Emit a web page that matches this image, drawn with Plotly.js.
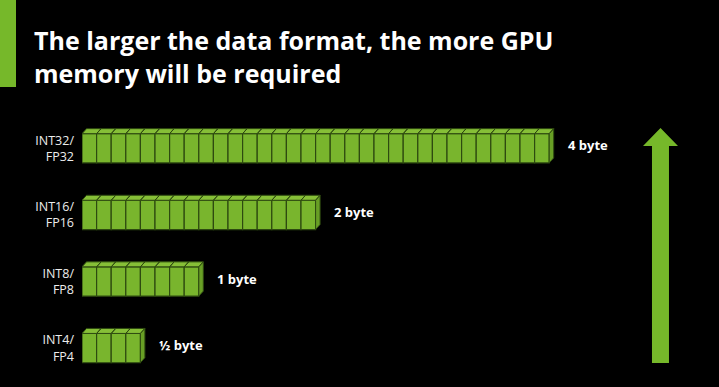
<!DOCTYPE html>
<html><head><meta charset="utf-8">
<script src="https://cdn.plot.ly/plotly-3.0.1.min.js"></script>
<style>html,body{margin:0;padding:0;background:#000;} #chart{width:719px;height:387px;}</style>
</head><body><div id="chart"></div>
<script>
// ---- data ----
const categories = ['INT32/<br>FP32', 'INT16/<br>FP16', 'INT8/<br>FP8', 'INT4/<br>FP4'];
const blockCounts = [32, 16, 8, 4];
const sizeLabels = ['4 byte', '2 byte', '1 byte', '½ byte'];
const titleText = 'The larger the data format, the more GPU<br>memory will be required';

// ---- layout geometry ----
const W = 719, H = 387, mL = 82, mR = 19, mT = 100, mB = 0;
const pw = W - mL - mR, ph = H - mT - mB;
const pitch = 14.6;            // px per block
const xMax = pw / pitch;
const rowGap = 66.6, row0 = 148.3;
const yTop = (mT - row0) / rowGap, yBot = (H - mB - row0) / rowGap;
const barW = 0.44;
const dxD = 4.5 / pitch, dyD = 5 / rowGap;

const GREEN = '#79b52d', TOPC = '#86bf37', SIDE = '#689f25', EDGE = '#2e4a10', ARROW = '#76b82a';

const bx = [], by = [], bb = [];
const tx = [], ty = [], sx = [], sy = [];
blockCounts.forEach((n, i) => {
  const t = i - barW / 2, b = i + barW / 2;
  for (let k = 0; k < n; k++) {
    bx.push(1); by.push(i); bb.push(k);
    tx.push(k, k + 1, k + 1 + dxD, k + dxD, k, null);
    ty.push(t, t, t - dyD, t - dyD, t, null);
  }
  sx.push(n, n + dxD, n + dxD, n, n, null);
  sy.push(b, b - dyD, t - dyD, t, b, null);
});

const traces = [
  {type: 'bar', orientation: 'h', x: bx, y: by, base: bb, width: barW,
   marker: {color: GREEN, line: {color: EDGE, width: 1.2}}, hoverinfo: 'skip'},
  {type: 'scatter', mode: 'lines', x: tx, y: ty, fill: 'toself', fillcolor: TOPC,
   line: {color: EDGE, width: 1}, hoverinfo: 'skip'},
  {type: 'scatter', mode: 'lines', x: sx, y: sy, fill: 'toself', fillcolor: SIDE,
   line: {color: EDGE, width: 1}, hoverinfo: 'skip'}
];

const px = p => (p - mL) / pw;
const py = p => (H - mB - p) / ph;
const arrowPath = [
  ['M', 652, 363], ['L', 669, 363], ['L', 669, 146], ['L', 678, 146],
  ['L', 660.5, 128], ['L', 643, 146], ['L', 652, 146]
].map(([c, a, b]) => c + ' ' + px(a).toFixed(4) + ',' + py(b).toFixed(4)).join(' ') + ' Z';

const annotations = blockCounts.map((n, i) => ({
  x: n + dxD, y: i, xref: 'x', yref: 'y', text: sizeLabels[i],
  xanchor: 'left', yanchor: 'middle', xshift: 12, yshift: 3, showarrow: false,
  font: {family: 'Open Sans', size: 13, color: '#ffffff', weight: 700}
}));

const layout = {
  width: W, height: H,
  paper_bgcolor: '#000', plot_bgcolor: '#000',
  margin: {l: mL, r: mR, t: mT, b: mB},
  showlegend: false,
  barmode: 'overlay',
  title: {text: titleText, x: 34 / W, xref: 'container', xanchor: 'left',
          y: 1 - 50 / H, yref: 'container', yanchor: 'top',
          font: {family: 'Open Sans', size: 25, color: '#ffffff', weight: 700}},
  xaxis: {range: [0, xMax], visible: false, fixedrange: true},
  yaxis: {range: [yBot, yTop], tickvals: categories.map((c, i) => i), ticktext: categories,
          showgrid: false, zeroline: false, showline: false, ticks: '',
          ticklabelstandoff: 7,
          tickfont: {family: 'Open Sans', size: 12.5, color: '#ececec'}, fixedrange: true},
  annotations: annotations,
  shapes: [
    {type: 'path', xref: 'paper', yref: 'paper', path: arrowPath,
     fillcolor: ARROW, line: {width: 0}, layer: 'above'},
    {type: 'rect', xref: 'paper', yref: 'paper', x0: px(0), x1: px(16), y0: py(87), y1: py(0),
     fillcolor: ARROW, line: {width: 0}, layer: 'above'}
  ]
};

Plotly.newPlot('chart', traces, layout, {displayModeBar: false, staticPlot: true});
</script>
</body></html>
